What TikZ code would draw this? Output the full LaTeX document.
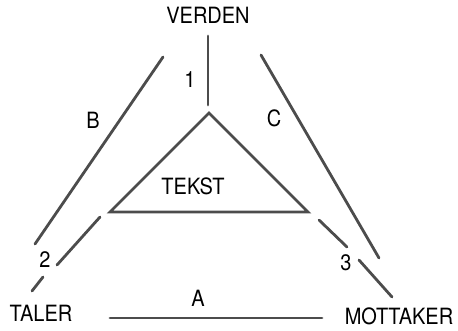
\documentclass[tikz,border=0pt]{standalone}
\usepackage{fontspec}
\setmainfont{TeX Gyre Heros}
\usetikzlibrary{positioning}
\newcommand{\tall}[1]{\scalebox{1}[1.12]{#1}}

\begin{document}
\begin{tikzpicture}[
  x=1pt, y=-1pt,
  lbl/.style={inner sep=0pt, font=\fontsize{20}{24}\selectfont},
  stroke/.style={draw=black!70, line width=2.8pt, line cap=round, line join=miter}
]
\useasboundingbox (0,0) rectangle (458,330);
% places
\node[lbl] (verden) at (208,15) {\tall{VERDEN}};
\node[lbl] (taler) at (41,313) {\tall{TALER}};
\node[lbl] (mottaker) at (399,316) {\tall{MOTTAKER}};
% text triangle
\coordinate (top) at (209,113);
\coordinate (left) at (110,212);
\coordinate (right) at (308,212);
\draw[stroke] (top) -- (left) -- (right) -- cycle;
\node[lbl] (tekst) at (193,186) {\tall{TEKST}};
% line ends
\coordinate (w1) at (208,36);   \coordinate (w2) at (208,105);
\coordinate (b1) at (163,57);   \coordinate (b2) at (35,244);
\coordinate (c1) at (261,55);   \coordinate (c2) at (379,258);
\coordinate (a1) at (110,318);  \coordinate (a2) at (322,318);
\coordinate (s1) at (100,217);  \coordinate (s2) at (57,265);
\coordinate (s3) at (43,277);   \coordinate (s4) at (32,291);
\coordinate (r1) at (319,220);  \coordinate (r2) at (347,247);
\coordinate (r3) at (359,260);  \coordinate (r4) at (392,297);
\draw[stroke] (w1) -- (w2);
\draw[stroke] (b1) -- (b2);
\draw[stroke] (c1) -- (c2);
\draw[stroke] (a1) -- (a2);
\draw[stroke] (s1) -- (s2);
\draw[stroke] (s3) -- (s4);
\draw[stroke] (r1) -- (r2);
\draw[stroke] (r3) -- (r4);
% labels
\node[lbl] (n1) at (190,80) {\tall{1}};
\node[lbl] (nb) at (93,120) {\tall{B}};
\node[lbl] (nc) at (274,118) {\tall{C}};
\node[lbl] (n2) at (45,260) {\tall{2}};
\node[lbl] (na) at (198,298) {\tall{A}};
\node[lbl] (n3) at (346,263) {\tall{3}};
\end{tikzpicture}
\end{document}
